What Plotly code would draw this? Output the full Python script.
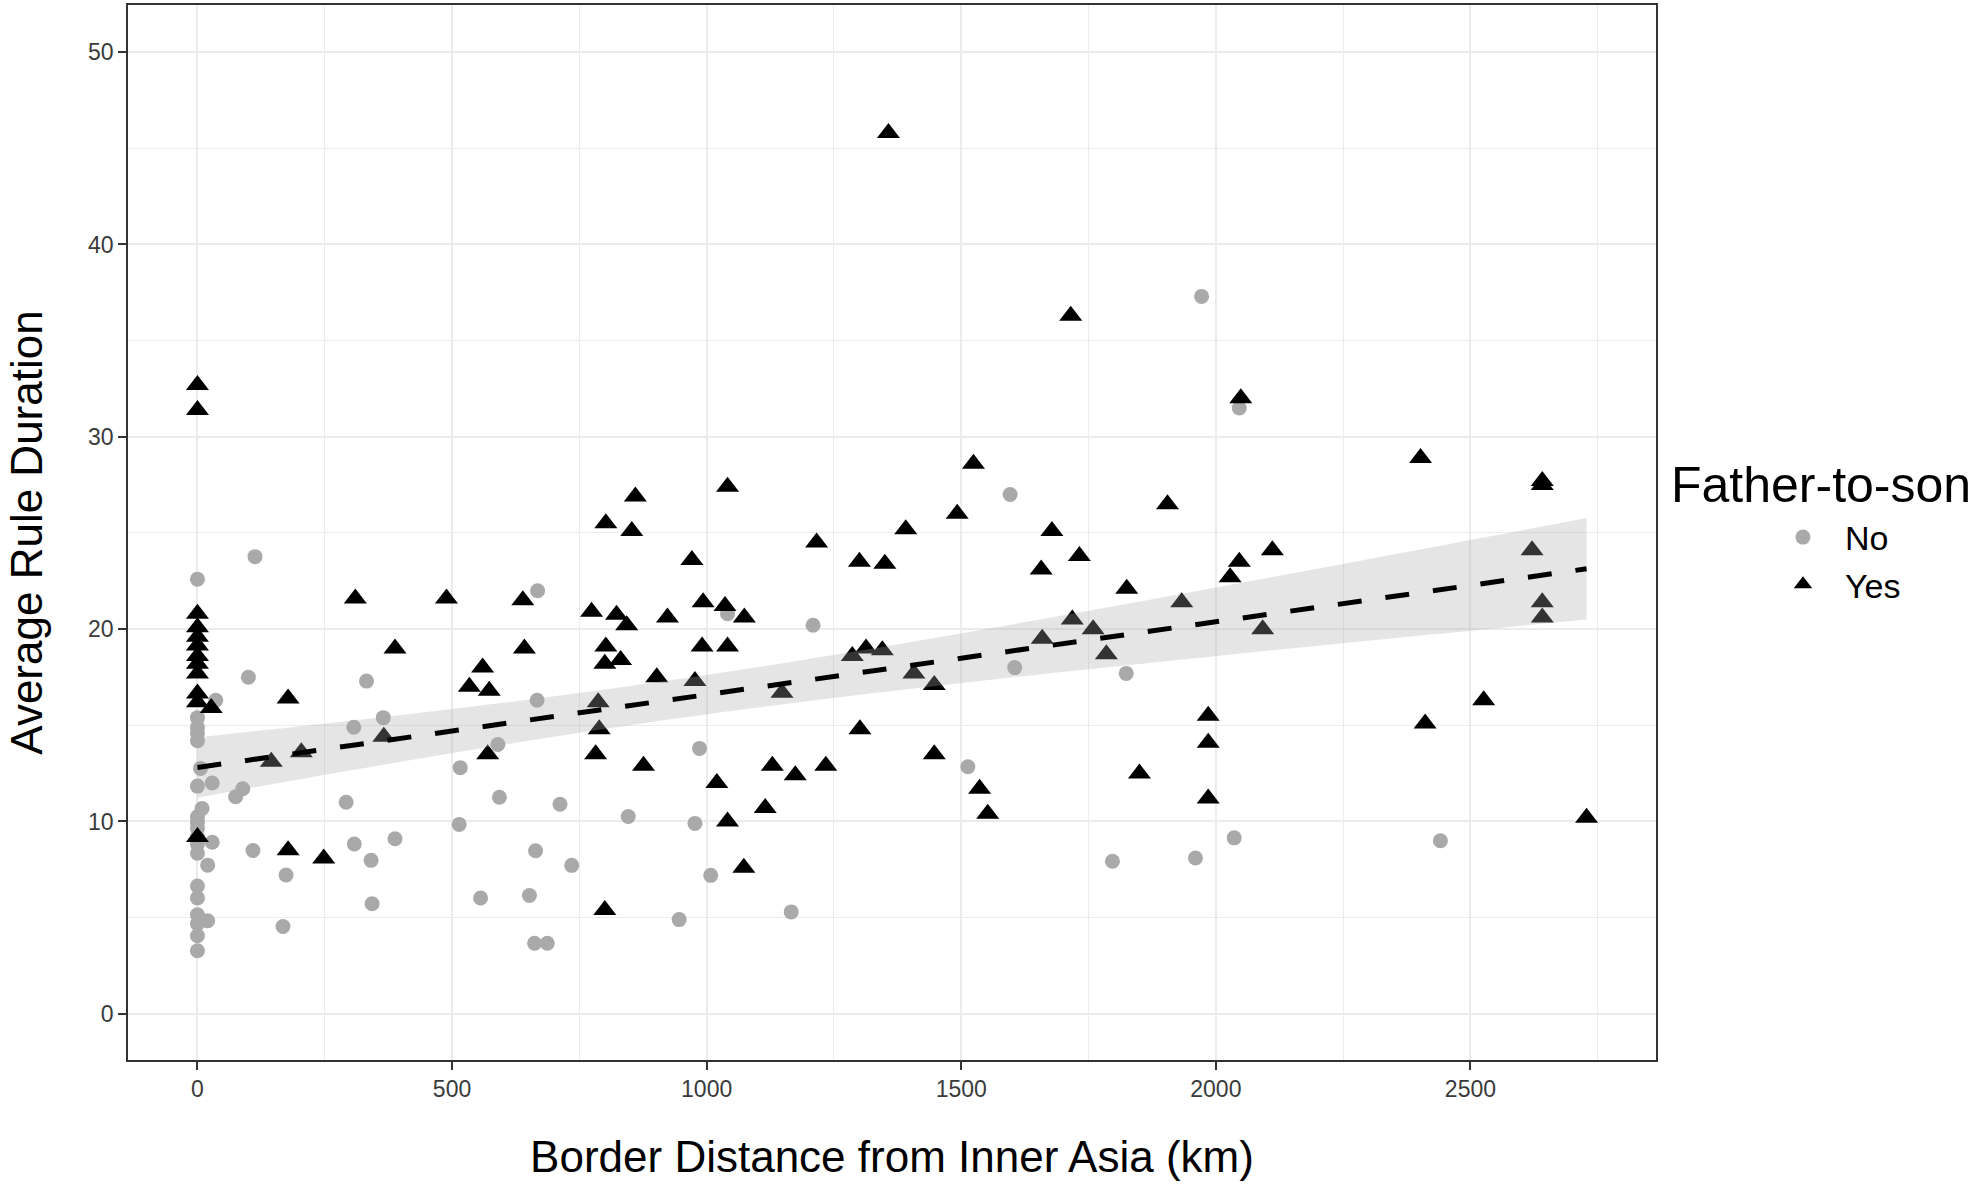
import numpy as np
import plotly.graph_objects as go

# ---- Data ----
# Father-to-son succession: "No" (grey circles)
no_x = [0, 0, 0, 0, 0, 6, 0, 9, 0, 0, 0, 0, 0, 0, 0, 0, 0, 0, 0, 0,
        36, 29, 89, 75, 29, 109, 20, 20, 168, 174, 113, 100,
        332, 668, 667, 307, 365, 590, 516, 292, 593, 712, 514, 308, 388, 341, 664, 735, 556, 652, 343, 662, 687,
        1041, 1209, 1605, 1824, 986, 1513, 846, 977, 1797, 1008, 946, 1166,
        1596, 1972, 2046,
        1960, 2036, 2441]
no_y = [22.6, 15.4, 14.9, 14.6, 14.2, 12.76, 11.84, 10.68, 10.25, 9.94, 9.65, 9.21, 8.83, 8.35, 6.65, 6.02, 5.15, 4.68, 4.06, 3.28,
        16.3, 12.0, 11.7, 11.29, 8.92, 8.49, 7.73, 4.84, 4.54, 7.22, 23.77, 17.5,
        17.3, 22.0, 16.3, 14.9, 15.4, 14.0, 12.8, 11.0, 11.26, 10.9, 9.85, 8.83, 9.1, 7.98, 8.48, 7.72, 6.02, 6.15, 5.72, 3.67, 3.67,
        20.8, 20.2, 18.0, 17.7, 13.8, 12.85, 10.26, 9.9, 7.93, 7.2, 4.9, 5.3,
        27.0, 37.3, 31.5,
        8.1, 9.15, 9.0]

# Father-to-son succession: "Yes" (black triangles)
yes_x = [0, 0, 0, 0, 0, 0, 0, 0, 0, 0, 0, 0,
         27, 145, 178, 178, 204, 248, 310, 366, 388, 489, 534, 560, 570, 573, 639, 642, 774, 782, 787, 789, 800, 802, 802, 800, 823, 831,
         971, 1300, 1350, 1657, 1732, 1825, 923, 993, 1036, 1074, 843, 991, 1041, 902, 977, 1148, 1286, 1313, 1345, 1407, 1447, 1659,
         1718, 1759, 1785, 1301, 876, 1129, 1174, 1234, 1020, 1447, 1850, 1536, 1552, 1115, 1041, 1073,
         1216,
         1357, 1715, 1524, 1041, 860, 853, 1492, 1391, 1678,
         2049, 2402, 2641, 2641, 1905, 2111, 2046, 2028, 1933, 2092, 2621, 2641, 2641, 1985, 1985, 1985, 2411, 2526, 2728]
yes_y = [32.7, 31.4, 20.8, 20.1, 19.6, 19.15, 18.6, 18.2, 17.7, 16.65, 16.2, 9.2,
         15.9, 13.1, 16.4, 8.5, 13.6, 8.07, 21.6, 14.4, 19.0, 21.6, 17.0, 18.0, 13.5, 16.8, 21.5, 19.0, 20.9, 13.5, 16.2, 14.8, 18.2, 19.1, 25.5, 5.4, 20.75, 18.4,
         23.6, 23.5, 23.4, 23.1, 23.8, 22.1, 20.6, 21.4, 21.2, 20.6, 20.2, 19.1, 19.1, 17.5, 17.3, 16.7, 18.6, 19.0, 18.9, 17.7, 17.1, 19.5,
         20.5, 20.0, 18.7, 14.8, 12.9, 12.9, 12.4, 12.9, 12.0, 13.5, 12.5, 11.7, 10.4, 10.7, 10.0, 7.6,
         24.5,
         45.8, 36.3, 28.6, 27.4, 26.9, 25.1, 26.0, 25.2, 25.1,
         32.0, 28.9, 27.5, 27.7, 26.5, 24.1, 23.5, 22.7, 21.4, 20.0, 24.1, 21.4, 20.6, 15.5, 14.1, 11.2, 15.1, 16.3, 10.2]

x_ticks = [0, 500, 1000, 1500, 2000, 2500]
y_ticks = [0, 10, 20, 30, 40, 50]

# ---- Linear fit with 95% confidence band (like geom_smooth(method="lm")) ----
ax = np.array(no_x + yes_x, dtype=float)
ay = np.array(no_y + yes_y, dtype=float)
n = len(ax)
slope, intercept = np.polyfit(ax, ay, 1)
resid = ay - (intercept + slope * ax)
s = np.sqrt(np.sum(resid ** 2) / (n - 2))
xbar = ax.mean()
sxx = np.sum((ax - xbar) ** 2)
z = 1.959964
df = n - 2
tcrit = z + (z ** 3 + z) / (4 * df) + (5 * z ** 5 + 16 * z ** 3 + 3 * z) / (96 * df ** 2)
fx = np.linspace(ax.min(), ax.max(), 80)
fy = intercept + slope * fx
se = s * np.sqrt(1.0 / n + (fx - xbar) ** 2 / sxx)
lo = fy - tcrit * se
hi = fy + tcrit * se

FONT = "Liberation Sans, Arial, sans-serif"

fig = go.Figure()
fig.add_trace(go.Scatter(
    x=no_x, y=no_y, mode="markers", name="No",
    marker=dict(symbol="circle", size=15, color="#A9A9A9", line=dict(width=0)),
))
fig.add_trace(go.Scatter(
    x=yes_x, y=yes_y, mode="markers", name="Yes",
    marker=dict(symbol="triangle-up", size=20, color="#000000", line=dict(width=0)),
))
fig.add_trace(go.Scatter(
    x=np.concatenate([fx, fx[::-1]]), y=np.concatenate([hi, lo[::-1]]),
    mode="none", fill="toself", fillcolor="rgba(170,170,170,0.3)",
    showlegend=False, hoverinfo="skip",
))
fig.add_trace(go.Scatter(
    x=fx, y=fy, mode="lines", showlegend=False,
    line=dict(color="#000000", width=5, dash="24px,24px"),
))

axis_common = dict(
    showline=True, mirror=True, linecolor="#333333", linewidth=1.5,
    ticks="outside", ticklen=8, tickwidth=1.5, tickcolor="#333333",
    showgrid=True, gridcolor="#EBEBEB", gridwidth=2, zeroline=False,
    tickfont=dict(family=FONT, size=23, color="#3A3A3A"),
)

fig.update_layout(
    width=1973, height=1184,
    margin=dict(l=128, r=317, t=3, b=124, pad=0),
    paper_bgcolor="white", plot_bgcolor="white",
    font=dict(family=FONT, color="#000000"),
    xaxis=dict(
        range=[-136.4, 2864.4], tickvals=x_ticks, ticktext=[str(v) for v in x_ticks],
        minor=dict(dtick=250, tick0=0, showgrid=True, gridcolor="#EBEBEB", gridwidth=1),
        title=dict(text="Border Distance from Inner Asia (km)", font=dict(family=FONT, size=44), standoff=40),
        **axis_common,
    ),
    yaxis=dict(
        range=[-2.4, 52.45], tickvals=y_ticks, ticktext=[str(v) for v in y_ticks],
        minor=dict(dtick=5, tick0=0, showgrid=True, gridcolor="#EBEBEB", gridwidth=1),
        title=dict(text="Average Rule Duration", font=dict(family=FONT, size=44), standoff=32),
        **axis_common,
    ),
    legend=dict(
        x=1.0687, y=0.473, xanchor="left", yanchor="middle",
        font=dict(family=FONT, size=34, color="#000000"),
        itemwidth=74, bgcolor="rgba(0,0,0,0)", borderwidth=0,
    ),
    annotations=[dict(
        text="Father-to-son", xref="paper", yref="paper",
        x=(1669 - 128) / 1528, y=(1060 - 484) / 1057, xanchor="left", yanchor="middle",
        showarrow=False, font=dict(family=FONT, size=50, color="#000000"),
    )],
)

fig.write_html("out.html")
